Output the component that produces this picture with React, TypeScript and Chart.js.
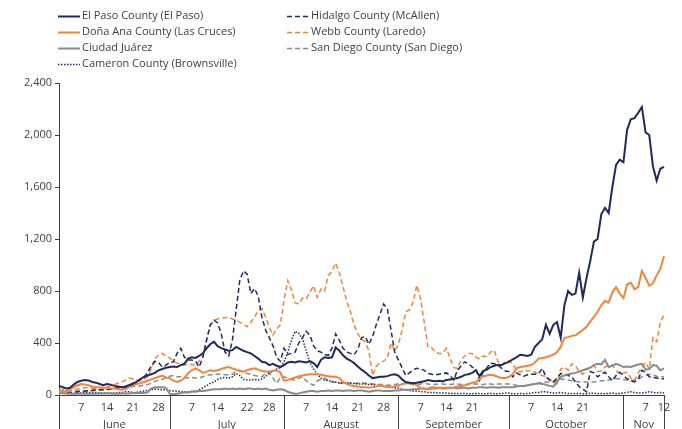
import { useEffect, useRef } from 'react';
import { Chart, registerables } from 'chart.js';

Chart.register(...registerables);

// ---- categories / tick labels ----
const months = ['June', 'July', 'August', 'September', 'October', 'Nov'];
const monthDays = [30, 31, 31, 30, 31, 12];
const dayTickLabels = [[7, 14, 21, 28], [7, 14, 22, 28], [7, 14, 21, 28], [7, 14, 21], [7, 14, 21], [7, 12]];
const yMax = 2400;
const yStep = 400;

const categories: string[] = [];
months.forEach((m, i) => {
  for (let d = 1; d <= monthDays[i]; d++) categories.push(`${m} ${d}`);
});

// ---- series values (daily, June 1 – Nov 12) ----
const elPaso = [
  70, 60, 50, 55, 80, 100, 110, 115, 112, 100, 95, 85, 75, 85, 80, 70, 65, 60, 65, 75, 85, 100, 120, 140, 150, 160, 170, 190, 200, 210,
  215, 220, 215, 230, 240, 280, 290, 285, 300, 320, 360, 390, 410, 375, 360, 350, 340, 345, 370, 355, 340, 330, 320, 300, 280, 255, 250, 230, 240, 225, 215,
  230, 250, 255, 250, 260, 255, 250, 260, 245, 215, 270, 290, 285, 290, 365, 340, 305, 280, 265, 245, 220, 195, 175, 150, 130, 135, 140, 140, 145, 155, 160,
  150, 120, 100, 95, 90, 95, 100, 105, 115, 110, 105, 110, 105, 115, 120, 125, 130, 140, 155, 160, 170, 190, 145, 185, 195, 215, 225, 230, 230, 245,
  255, 275, 290, 310, 305, 300, 310, 370, 400, 430, 540, 470, 540, 560, 440, 690, 800, 770, 780, 940, 750, 900, 1030, 1180, 1200, 1390, 1440, 1400, 1600, 1770, 1810,
  1790, 2040, 2120, 2130, 2170, 2215, 2020, 2000, 1760, 1650, 1740, 1755,
];
const donaAna = [
  25, 25, 30, 45, 60, 75, 85, 80, 75, 65, 60, 60, 55, 55, 50, 50, 45, 40, 45, 60, 75, 85, 90, 100, 110, 120, 130, 140, 150, 135,
  130, 110, 100, 110, 130, 170, 190, 205, 190, 170, 180, 190, 185, 190, 200, 210, 215, 205, 195, 185, 180, 190, 200, 205, 195, 185, 180, 180, 185, 190, 175,
  110, 115, 125, 135, 145, 150, 155, 160, 160, 160, 155, 150, 145, 140, 140, 130, 100, 85, 75, 70, 65, 60, 60, 58, 60, 65, 75, 70, 60, 60, 65,
  70, 85, 90, 90, 88, 75, 55, 45, 50, 60, 58, 55, 55, 55, 55, 58, 65, 70, 75, 85, 95, 100, 125, 145, 150, 155, 150, 140, 130, 130,
  140, 160, 205, 215, 220, 225, 230, 250, 280, 285, 290, 300, 310, 330, 370, 440, 445, 455, 460, 480, 500, 525, 565, 600, 640, 690, 725, 710, 790, 830, 780,
  745, 850, 865, 815, 830, 955, 900, 840, 860, 920, 970, 1070,
];
const ciudadJuarez = [
  15, 15, 12, 12, 10, 10, 10, 10, 10, 10, 10, 12, 12, 12, 12, 10, 10, 12, 12, 12, 15, 15, 15, 15, 20, 50, 60, 60, 60, 55,
  10, 5, 10, 15, 20, 20, 25, 25, 30, 30, 35, 40, 45, 45, 45, 50, 45, 50, 45, 50, 45, 50, 50, 45, 50, 45, 50, 40, 35, 40, 45,
  40, 25, 15, 10, 12, 20, 25, 30, 30, 25, 30, 30, 35, 30, 35, 35, 30, 35, 35, 30, 35, 35, 30, 25, 30, 35, 35, 30, 30, 30, 35,
  35, 40, 40, 40, 45, 45, 50, 50, 45, 50, 50, 55, 50, 50, 55, 55, 50, 55, 55, 50, 55, 55, 60, 60, 55, 60, 60, 55, 60, 60,
  60, 60, 65, 70, 70, 75, 80, 85, 90, 85, 80, 70, 65, 100, 140, 150, 160, 165, 170, 180, 190, 200, 210, 230, 240, 235, 270, 215, 225, 240, 230,
  215, 220, 215, 225, 235, 240, 195, 200, 230, 225, 190, 205,
];
const cameron = [
  15, 15, 12, 10, 12, 15, 15, 18, 20, 20, 20, 18, 15, 15, 15, 15, 18, 20, 25, 25, 20, 20, 25, 30, 35, 40, 45, 45, 40, 40,
  35, 30, 30, 25, 25, 25, 30, 30, 40, 55, 70, 90, 100, 120, 130, 135, 130, 140, 165, 150, 120, 115, 115, 120, 115, 125, 140, 170, 185, 200, 210,
  255, 330, 420, 490, 475, 430, 340, 250, 200, 160, 130, 115, 110, 105, 100, 95, 95, 90, 90, 88, 85, 85, 85, 80, 80, 75, 70, 65, 60, 60, 55,
  50, 45, 40, 35, 30, 30, 25, 25, 20, 20, 18, 15, 15, 15, 12, 12, 10, 12, 12, 10, 10, 12, 12, 10, 10, 12, 10, 10, 12, 15,
  15, 10, 10, 12, 10, 12, 15, 20, 20, 25, 25, 20, 15, 15, 20, 15, 12, 12, 10, 12, 10, 10, 12, 15, 10, 12, 10, 12, 15, 10, 12,
  15, 20, 25, 20, 15, 15, 20, 25, 20, 15, 20, 15,
];
const hidalgo = [
  15, 15, 18, 20, 20, 25, 30, 30, 35, 35, 40, 40, 40, 45, 45, 50, 55, 55, 60, 75, 90, 100, 120, 130, 175, 220, 260, 250, 215, 230,
  250, 255, 320, 360, 290, 270, 270, 260, 215, 290, 420, 540, 575, 555, 470, 330, 300, 420, 650, 880, 955, 930, 780, 820, 760, 600, 500, 440, 380, 290, 260,
  360, 310, 320, 330, 400, 440, 490, 460, 380, 340, 330, 310, 305, 360, 470, 420, 360, 330, 320, 310, 350, 440, 450, 390, 450, 540, 620, 700, 665, 500, 330,
  270, 210, 150, 170, 195, 205, 200, 190, 165, 160, 155, 160, 165, 170, 150, 115, 190, 225, 255, 240, 215, 200, 115, 180, 210, 245, 240, 230, 205, 185,
  180, 140, 170, 155, 145, 155, 160, 160, 165, 205, 140, 115, 100, 130, 165, 160, 150, 140, 100, 65, 45, 25, 180, 170, 140, 160, 175, 140, 110, 150, 175,
  150, 125, 110, 100, 120, 190, 175, 140, 135, 130, 125, 125,
];
const webb = [
  40, 40, 35, 35, 40, 45, 50, 55, 55, 50, 50, 55, 55, 60, 70, 80, 90, 100, 115, 130, 125, 115, 110, 120, 140, 200, 280, 310, 320, 300,
  285, 260, 245, 235, 230, 235, 235, 230, 260, 300, 430, 530, 575, 585, 590, 595, 600, 585, 575, 560, 545, 525, 560, 600, 650, 665, 600, 520, 460, 510, 540,
  730, 880, 810, 710, 700, 745, 740, 790, 840, 750, 815, 800, 920, 950, 1015, 940, 830, 720, 640, 540, 470, 430, 410, 340, 150, 220, 250, 260, 285, 400, 340,
  390, 500, 640, 655, 715, 845, 740, 560, 370, 365, 330, 320, 320, 360, 285, 210, 205, 270, 300, 320, 320, 290, 280, 300, 295, 330, 345, 255, 230, 260,
  265, 240, 190, 175, 190, 185, 190, 175, 160, 150, 140, 120, 100, 85, 200, 215, 190, 240, 225, 180, 160, 190, 215, 230, 180, 185, 215, 225, 230, 190, 160,
  170, 175, 130, 110, 170, 215, 250, 200, 440, 410, 560, 615,
];
const sanDiego = [
  40, 40, 35, 35, 30, 30, 25, 25, 30, 35, 35, 40, 40, 40, 45, 50, 55, 55, 55, 60, 65, 70, 70, 75, 80, 90, 105, 115, 120, 135,
  145, 150, 140, 140, 135, 130, 135, 130, 130, 140, 150, 155, 155, 160, 160, 155, 155, 160, 185, 190, 175, 165, 160, 150, 145, 140, 165, 175, 130, 90, 135,
  140, 130, 120, 115, 130, 140, 110, 90, 75, 110, 120, 130, 110, 100, 95, 90, 90, 90, 95, 90, 90, 95, 90, 90, 85, 85, 80, 80, 75, 75, 80,
  85, 85, 90, 85, 80, 80, 85, 90, 85, 80, 80, 85, 85, 80, 80, 85, 85, 80, 80, 80, 85, 85, 80, 80, 85, 85, 80, 85, 85, 85,
  85, 80, 75, 70, 70, 75, 80, 85, 90, 95, 100, 100, 105, 110, 125, 120, 115, 110, 105, 100, 100, 100, 100, 100, 105, 110, 110, 115, 120, 125, 125,
  120, 115, 110, 115, 120, 140, 150, 160, 155, 145, 140, 140,
];

const NAVY = '#1f2a5e';
const ORANGE = '#f5833a';
const GREY = '#8a8a8a';
const TEXT = '#404040';
const FONT_FAMILY = '"Open Sans", "Noto Sans", sans-serif';
const FONT = `11px ${FONT_FAMILY}`;

const axisPlugin = {
  id: 'twoLevelAxis',
  afterDraw(chart: any) {
    const { ctx, chartArea } = chart;
    const x = chart.scales.x;
    const bottom = chartArea.bottom;
    ctx.save();
    ctx.font = FONT;
    ctx.fillStyle = TEXT;
    ctx.strokeStyle = TEXT;
    ctx.lineWidth = 1;
    ctx.textAlign = 'center';
    ctx.textBaseline = 'middle';
    const starts: number[] = [];
    let s = 0;
    monthDays.forEach((n) => { starts.push(s); s += n; });
    const last = s - 1;
    const sep = (px: number) => {
      const xx = Math.round(px) + 0.5;
      ctx.beginPath();
      ctx.moveTo(xx, bottom);
      ctx.lineTo(xx, bottom + 40);
      ctx.stroke();
    };
    months.forEach((m, i) => {
      const x0 = x.getPixelForValue(starts[i]);
      const x1 = i < months.length - 1 ? x.getPixelForValue(starts[i + 1]) : x.getPixelForValue(last);
      sep(x0);
      dayTickLabels[i].forEach((d) => {
        ctx.fillText(String(d), x.getPixelForValue(starts[i] + d - 1), bottom + 13);
      });
      ctx.fillText(m, (x0 + x1) / 2, bottom + 30);
    });
    sep(x.getPixelForValue(last));
    ctx.restore();
  },
};

const legendPlugin = {
  id: 'columnLegend',
  afterDraw(chart: any) {
    const { ctx } = chart;
    const colX = [58, 287];
    const rowY = [16, 32, 48, 64];
    ctx.save();
    ctx.font = FONT;
    ctx.textAlign = 'left';
    ctx.textBaseline = 'middle';
    chart.data.datasets.forEach((ds: any, i: number) => {
      const col = i < 4 ? 0 : 1;
      const row = i < 4 ? i : i - 4;
      const lx = colX[col];
      const ly = rowY[row] + 0.5;
      ctx.strokeStyle = ds.borderColor;
      ctx.lineWidth = ds.borderWidth;
      ctx.setLineDash(ds.borderDash || []);
      ctx.beginPath();
      ctx.moveTo(lx, ly);
      ctx.lineTo(lx + 22, ly);
      ctx.stroke();
      ctx.setLineDash([]);
      ctx.fillStyle = TEXT;
      ctx.fillText(ds.label, lx + 24, rowY[row]);
    });
    ctx.restore();
  },
};

export default function App() {
  const ref = useRef<HTMLCanvasElement | null>(null);
  useEffect(() => {
    if (!ref.current) return;
    const line = (label: string, data: number[], color: string, width: number, dash?: number[]) => ({
      label,
      data,
      borderColor: color,
      backgroundColor: color,
      borderWidth: width,
      borderDash: dash,
      pointRadius: 0,
      tension: 0,
      fill: false,
    });
    const chart = new Chart(ref.current, {
      type: 'line',
      data: {
        labels: categories,
        datasets: [
          line('El Paso County (El Paso)', elPaso, NAVY, 2),
          line('Doña Ana County (Las Cruces)', donaAna, ORANGE, 2),
          line('Ciudad Juárez', ciudadJuarez, GREY, 2),
          line('Cameron County (Brownsville)', cameron, NAVY, 1.5, [1.5, 1.5]),
          line('Hidalgo County (McAllen)', hidalgo, NAVY, 1.5, [5, 3]),
          line('Webb County (Laredo)', webb, ORANGE, 1.5, [5, 3]),
          line('San Diego County (San Diego)', sanDiego, GREY, 1.5, [5, 3]),
        ] as any,
      },
      options: {
        responsive: false,
        animation: false,
        devicePixelRatio: 1,
        layout: { padding: { top: 83, right: 18, left: 0, bottom: 0 } },
        plugins: { legend: { display: false }, tooltip: { enabled: false } },
        scales: {
          x: {
            type: 'category',
            offset: false,
            ticks: { display: false },
            grid: { drawOnChartArea: false, drawTicks: false },
            border: { display: true, color: TEXT, width: 1 },
            afterFit: (s: any) => { s.height = 34; },
          },
          y: {
            min: 0,
            max: yMax,
            ticks: {
              stepSize: yStep,
              color: TEXT,
              padding: 3,
              font: { family: FONT_FAMILY, size: 11 },
              callback: (v: any) => Number(v).toLocaleString('en-US'),
            },
            grid: { drawOnChartArea: false, drawTicks: true, tickLength: 4, color: TEXT },
            border: { display: true, color: TEXT, width: 1 },
            afterFit: (s: any) => { s.width = 59; },
          },
        },
      } as any,
      plugins: [axisPlugin, legendPlugin],
    });
    return () => chart.destroy();
  }, []);
  return (
    <div style={{ position: 'absolute', left: 0, top: 0, width: 682, height: 429, background: '#fff' }}>
      <canvas ref={ref} width={682} height={429} />
    </div>
  );
}
